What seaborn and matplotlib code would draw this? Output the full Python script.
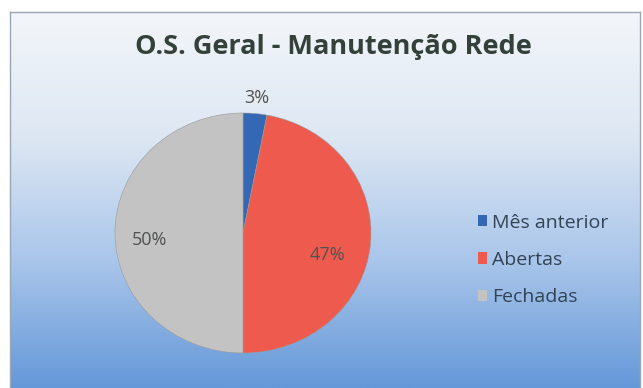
import numpy as np
import matplotlib
matplotlib.use("Agg")
import matplotlib.pyplot as plt
from matplotlib.colors import LinearSegmentedColormap
import seaborn as sns

# ---- data ----
categories = ["Mês anterior", "Abertas", "Fechadas"]
values = [3, 47, 50]
pct_labels = ["3%", "47%", "50%"]
colors = ["#3568b4", "#ee5a4e", "#c3c3c3"]
title = "O.S. Geral - Manutenção Rede"

sns.set_theme(style="white")
plt.rcParams["font.family"] = ["Open Sans", "DejaVu Sans"]

W, H = 643, 388
fig = plt.figure(figsize=(W / 100, H / 100), dpi=100)
fig.patch.set_facecolor("white")

def px(x0, y0, w, h):
    return [x0 / W, 1 - (y0 + h) / H, w / W, h / H]

# gradient background box
bg = fig.add_axes(px(10, 12, 630, 376))
grad = LinearSegmentedColormap.from_list(
    "g", ["#f3f6fa", "#dde7f3", "#a8c5ea", "#6598d8"])
bg.imshow(np.linspace(0, 1, 256).reshape(-1, 1), aspect="auto", cmap=grad,
          extent=[0, 1, 0, 1])
bg.set_xticks([]); bg.set_yticks([])
for s in bg.spines.values():
    s.set_color("#9aa6b4"); s.set_linewidth(1.0)
bg.spines["bottom"].set_visible(False)

fig.text(333 / W, 1 - 47 / H, title, ha="center", va="center",
         fontsize=19.5, fontweight="bold", color="#34403a")

# pie
ax = fig.add_axes(px(115, 113, 256, 240))
ax.set_facecolor("none")
wedges, _ = ax.pie(values, colors=colors, startangle=90, counterclock=False,
                   wedgeprops=dict(edgecolor="#9a9a9a", linewidth=0.4))
ax.set_aspect("auto")
ax.set_xlim(-1, 1); ax.set_ylim(-1, 1)
ax.axis("off")

dists = [1.13, 0.66, 0.73]
yoffs = [0.0, -0.12, -0.06]
for w, lab, d, yo in zip(wedges, pct_labels, dists, yoffs):
    ang = np.deg2rad((w.theta1 + w.theta2) / 2)
    ax.text(d * np.cos(ang), d * np.sin(ang) + yo, lab, ha="center",
            va="center", fontsize=13, color="#4f5250")

leg = fig.legend(wedges, categories, loc="upper left",
                 bbox_to_anchor=(460 / W, 1 - 196 / H), frameon=False,
                 fontsize=14, handlelength=0.5, handleheight=0.5,
                 handletextpad=0.25, labelspacing=1.0,
                 labelcolor="#334354")
for h in leg.legend_handles:
    h.set_linewidth(0)

fig.savefig("out.png", dpi=100)
